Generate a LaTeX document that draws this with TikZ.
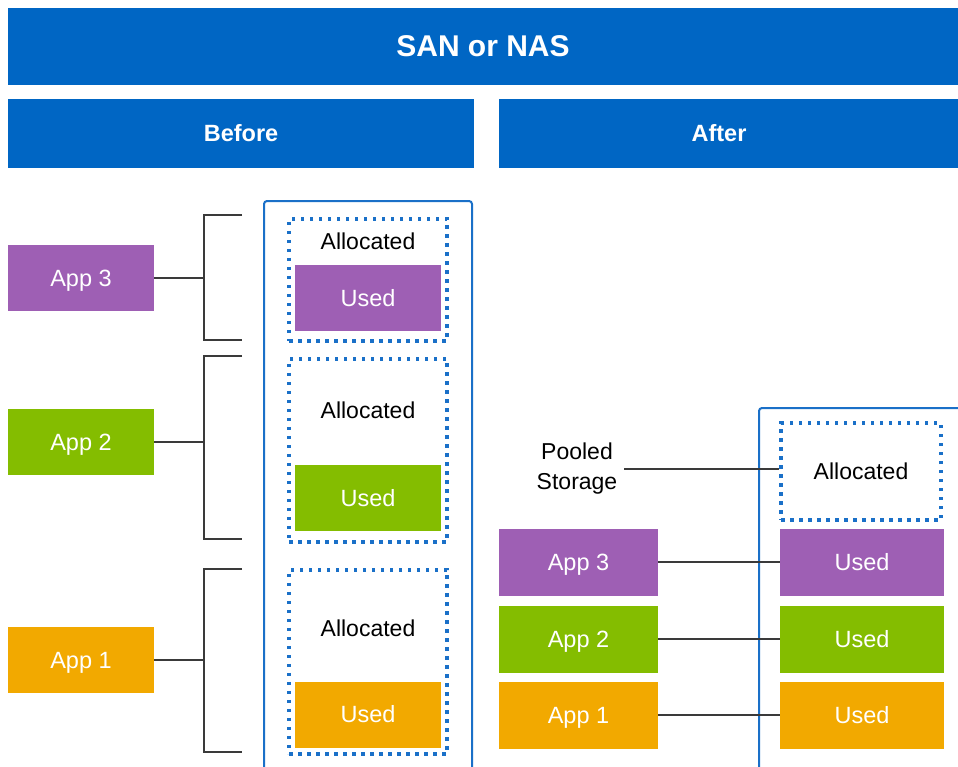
\documentclass[tikz,border=0pt]{standalone}
\usepackage{fontspec}
\setmainfont{Liberation Sans}
\usepackage{tikz}
\usetikzlibrary{positioning}
\definecolor{sanblue}{RGB}{0,102,196}
\definecolor{frameblue}{RGB}{26,112,200}
\definecolor{apppurple}{RGB}{158,95,180}
\definecolor{appgreen}{RGB}{132,189,0}
\definecolor{apporange}{RGB}{242,169,0}
\definecolor{linegray}{RGB}{58,58,58}
\tikzset{banner/.style={rectangle,fill=sanblue,text=white,inner sep=0,minimum height=69pt,
        text height=17pt,text depth=1pt,font=\fontsize{23.5}{28}\selectfont\bfseries},
    appbox/.style={rectangle,text=white,inner sep=0,minimum width=146pt,minimum height=66pt,
        text height=17pt,text depth=1pt,font=\fontsize{23.5}{28}\selectfont},
    allocbox/.style={rectangle,draw=frameblue,line width=3.5pt,dash pattern=on 3.5pt off 5.5pt,inner sep=0},
    poolframe/.style={rectangle,draw=frameblue,line width=2pt,rounded corners=3pt,inner sep=0},
    plainlabel/.style={inner sep=0,font=\fontsize{23}{30}\selectfont},
    joinline/.style={draw=linegray,line width=1.6pt}}

\begin{document}
\begin{tikzpicture}[x=1pt,y=-1pt]

\useasboundingbox (0,0) rectangle (958,766);

\node (sannas) [banner,minimum width=950pt,minimum height=77pt,text height=22pt,font=\fontsize{30}{36}\selectfont\bfseries] at (483,46) {SAN or NAS};
\node (before) [banner,minimum width=466pt] at (241,133.5) {Before};
\node (after) [banner,minimum width=459pt] at (728.5,133.5) {\hspace*{-19pt}After};

% before: one allocation per app
\node (beforepool) [poolframe,anchor=north west,minimum width=208pt,minimum height=600pt] at (263,200) {};

\foreach \i/\ay/\col/\top/\bot/\atop/\aht/\ly/\uy in {1/660/apporange/569/752/568/184/628/714.5,
                                                      2/442/appgreen/356/539/357/183/410/498,
                                                      3/278/apppurple/215/340/217/122/241/298}
{
    \node (lapp\i) [appbox,fill=\col] at (81,\ay) {App \i};
    \coordinate (lbt\i) at (242,\top);
    \coordinate (lbm\i) at (204,\ay);
    \coordinate (lbb\i) at (242,\bot);
    \draw [joinline] (lbt\i) -| (lbm\i) |- (lbb\i);
    \draw [joinline] (lapp\i.east) -- (lbm\i);

    \node (lalloc\i) [allocbox,anchor=north,minimum width=158pt,minimum height=\aht pt] at (368,\atop) {};
    \node (lalloctext\i) [plainlabel] at (368,\ly) {Allocated};
    \node (lused\i) [appbox,fill=\col] at (368,\uy) {Used};
}

% after: one shared pool
\node (afterpool) [poolframe,anchor=north west,minimum width=260pt,minimum height=400pt] at (758,407) {};
\node (ralloc) [allocbox,minimum width=160pt,minimum height=97pt,font=\fontsize{23}{28}\selectfont] at (861,471.5) {Allocated};
\node (pooled) [plainlabel,align=center,inner xsep=7pt] at (577,469) {Pooled\\Storage};
\draw [joinline] (pooled.east) -- (pooled.east -| ralloc.west);

\foreach \i/\ay/\col in {1/715/apporange,2/639/appgreen,3/562/apppurple}
{
    \node (rapp\i) [appbox,fill=\col,minimum width=159pt,minimum height=67pt] at (578.5,\ay) {App \i};
    \node (rused\i) [appbox,fill=\col,minimum width=164pt,minimum height=67pt] at (862,\ay) {Used};
    \draw [joinline] (rapp\i.east) -- (rused\i.west);
}

\end{tikzpicture}
\end{document}
